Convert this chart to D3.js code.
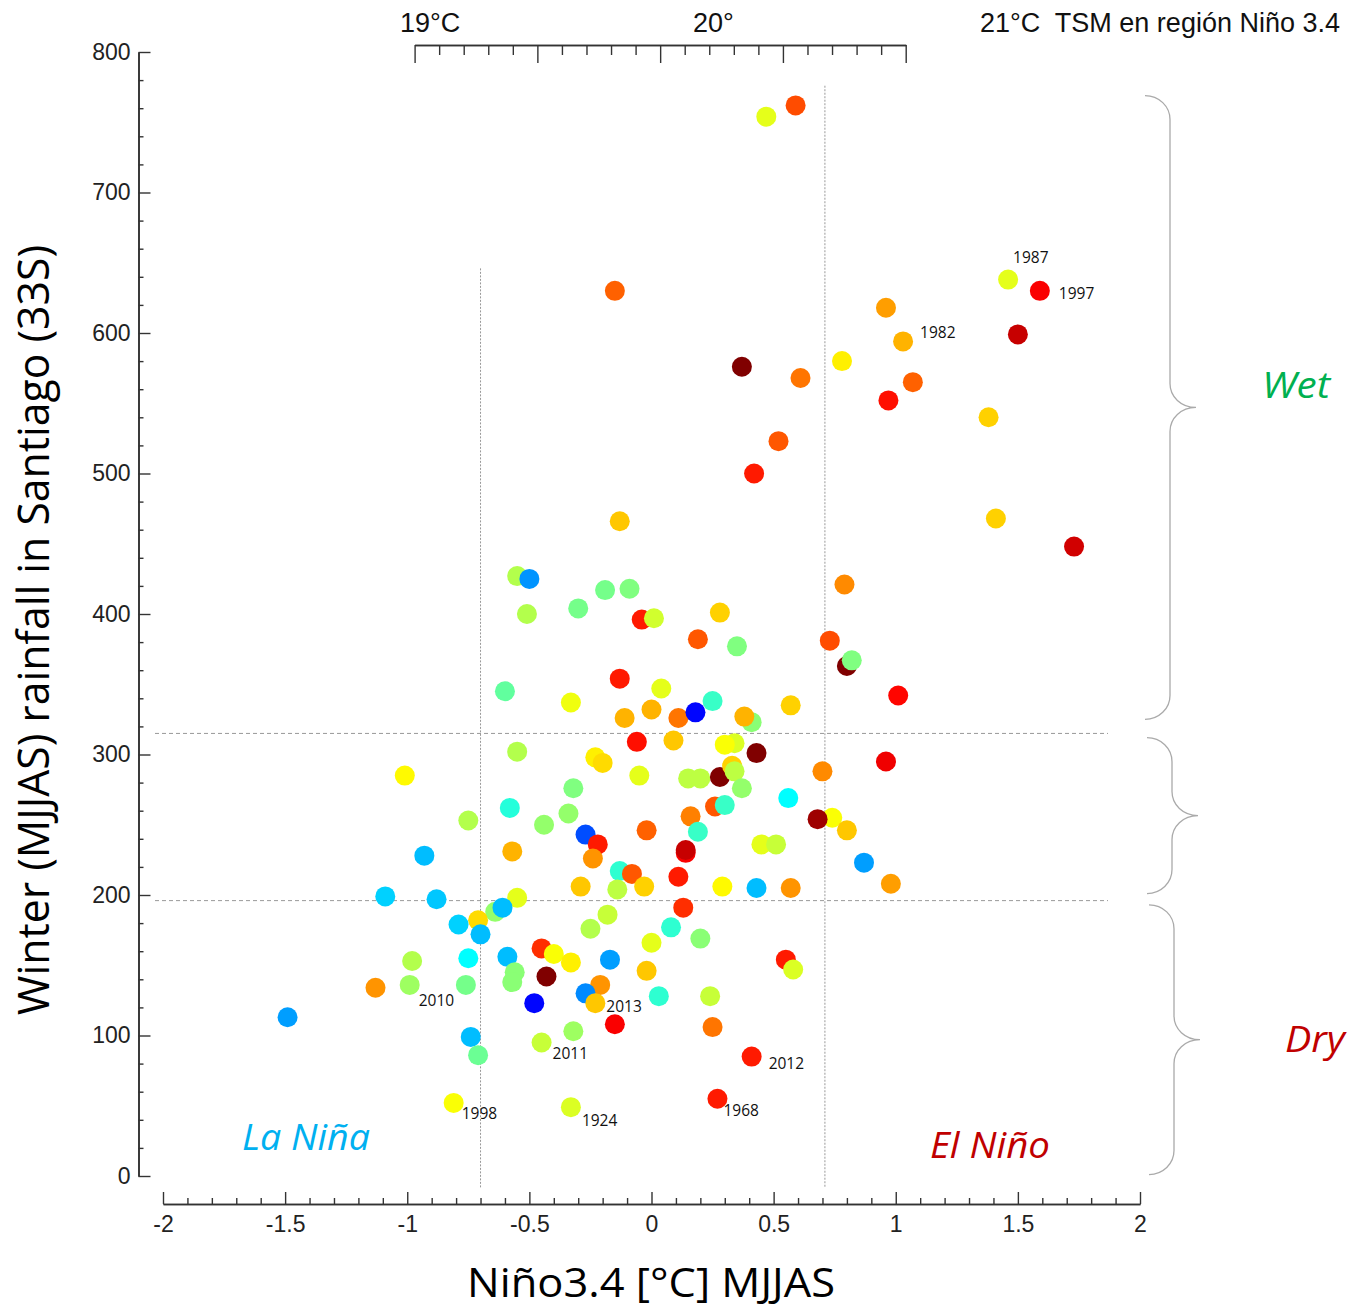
<!DOCTYPE html>
<html>
<head>
<meta charset="utf-8">
<script src="https://cdn.jsdelivr.net/npm/d3@7"></script>
<style>
body{margin:0;background:#fff}
</style>
</head>
<body>
<script>
// Niño3.4 anomaly (MJJAS), winter rainfall (mm) and colour value (0-1 on a jet ramp)
const nino=[0.47,0.59,-0.15,0.37,0.61,0.78,0.96,1.03,1.46,1.59,
  1.50,1.07,0.97,1.38,0.52,0.42,1.41,1.73,-0.13,-0.55,
  -0.50,-0.19,-0.09,-0.51,-0.30,-0.04,0.01,0.28,0.19,0.35,
  0.79,0.73,0.80,0.82,1.01,-0.13,0.04,-0.60,-0.33,0.25,
  -0.11,0.00,0.11,0.18,0.41,0.38,0.57,-0.06,0.09,0.34,
  0.30,0.43,-0.55,-1.01,-0.23,-0.20,-0.05,0.15,0.20,0.28,
  0.33,0.34,0.37,0.56,0.70,0.96,-0.32,-0.58,-0.34,-0.75,
  -0.44,0.26,0.30,0.16,-0.02,0.19,-0.27,-0.22,-0.93,-0.57,
  -0.24,0.14,0.14,0.45,0.51,0.74,0.68,0.80,0.87,0.98,
  -0.13,-0.08,0.11,-0.29,-0.14,-0.03,0.29,0.43,0.57,-1.09,
  -0.88,-0.55,-0.64,-0.61,-0.71,-0.79,-0.70,-0.18,-0.25,0.13,
  0.08,0.20,0.00,-0.45,-0.40,-0.33,-0.17,-0.02,0.55,0.58,
  -0.98,-0.75,-0.59,-0.56,-0.57,-0.43,-1.13,-0.99,-0.76,-0.21,
  -0.27,-0.23,-0.48,0.03,0.24,-1.49,-0.15,0.25,-0.32,-0.74,
  -0.45,-0.71,0.41,-0.81,-0.33,0.27];
const rain=[754,762,630,576,568,580,618,594,638,630,
  599,565,552,540,523,500,468,448,466,427,
  425,417,418,400,404,396,397,401,382,377,
  421,381,363,367,342,354,347,345,337,338,
  326,332,326,330,323,327,335,309,310,308,
  307,301,302,285,298,294,285,283,283,284,
  292,288,276,269,288,295,276,262,258,253,
  250,263,264,256,246,245,243,236,228,231,
  226,230,232,236,236,255,254,246,223,208,
  217,215,213,206,204,206,206,205,205,199,
  197,198,188,191,182,179,172,186,176,191,
  177,169,166,162,158,152,154,146,154,147,
  153,155,156,145,138,142,134,136,136,136,
  130,123,123,128,128,113,108,106,103,99,
  95,86,85,52,49,55];
const tone=[0.60,0.80,0.78,1.00,0.76,0.64,0.72,0.70,0.60,0.88,
  0.93,0.78,0.86,0.67,0.79,0.85,0.67,0.92,0.68,0.55,
  0.27,0.49,0.50,0.55,0.49,0.85,0.58,0.67,0.79,0.50,
  0.74,0.80,1.00,0.50,0.87,0.85,0.60,0.47,0.61,0.43,
  0.70,0.70,0.76,0.13,0.51,0.70,0.67,0.86,0.68,0.59,
  0.62,1.00,0.55,0.63,0.64,0.66,0.60,0.56,0.56,1.00,
  0.67,0.56,0.52,0.375,0.74,0.89,0.50,0.41,0.52,0.55,
  0.52,0.79,0.43,0.75,0.78,0.43,0.20,0.85,0.31,0.70,
  0.73,0.88,0.93,0.60,0.57,0.62,0.97,0.68,0.28,0.72,
  0.42,0.79,0.85,0.68,0.56,0.67,0.63,0.31,0.73,0.33,
  0.32,0.60,0.52,0.31,0.66,0.33,0.31,0.57,0.55,0.83,
  0.42,0.51,0.60,0.83,0.62,0.64,0.28,0.68,0.85,0.59,
  0.55,0.375,0.31,0.51,0.51,1.00,0.73,0.53,0.49,0.73,
  0.26,0.68,0.13,0.42,0.57,0.28,0.88,0.76,0.53,0.31,
  0.57,0.48,0.85,0.62,0.59,0.85];

// labelled years and the point each one belongs to
const labelYears=["1982","1987","1997","2010","2013","2011","2012","1998","1924","1968"];
const labelPoint=[7,8,9,127,131,140,142,143,144,145];

const xTicks=[-2,-1.5,-1,-0.5,0,0.5,1,1.5,2];
const yTicks=[0,100,200,300,400,500,600,700,800];
const sstLabels=["19°C","20°","21°C  TSM en región Niño 3.4"];

// thresholds
const ninoLimits=[-0.7,0.71];
const rainLimits=[196,315];
const classes=[{name:"Wet",lo:325,hi:769},{name:"",lo:201,hi:312},{name:"Dry",lo:1,hi:193}];

const W=1359,H=1310;
const svg=d3.select("body").append("svg").attr("width",W).attr("height",H);

const x=d3.scaleLinear().domain([-2,2]).range([163,1140]);
const y=d3.scaleLinear().domain([0,800]).range([1176,52]);
const topX=d3.scaleLinear().domain([-1,1]).range([414.6,905.7]);

function jet(t){
  const c=v=>Math.round(255*Math.max(0,Math.min(1,v)));
  return `rgb(${c(1.5-Math.abs(4*t-3))},${c(1.5-Math.abs(4*t-2))},${c(1.5-Math.abs(4*t-1))})`;
}

function styleAxis(g){
  g.select(".domain").attr("stroke","#333").attr("stroke-width",1.6);
  g.selectAll(".tick line").attr("stroke","#333").attr("stroke-width",1.4);
  g.selectAll(".tick text").attr("fill","#222")
    .style("font-family","'Liberation Sans',Arial,sans-serif").style("font-size","23px");
}

const minorX=d3.range(-20,21).map(i=>i/10).filter(v=>Math.abs(v*2-Math.round(v*2))>1e-6);
const minorY=d3.range(0,801,20).filter(v=>v%100!==0);

// bottom axis
svg.append("g").attr("transform","translate(0,1204)")
  .call(d3.axisBottom(x).tickValues(minorX).tickSizeInner(-6).tickSizeOuter(0).tickFormat(""))
  .call(styleAxis);
svg.append("g").attr("transform","translate(0,1204)")
  .call(d3.axisBottom(x).tickValues(xTicks).tickSizeInner(-12).tickSizeOuter(0).tickPadding(12)
    .tickFormat(d=>String(+d.toFixed(1))))
  .call(styleAxis);

// left axis
svg.append("g").attr("transform","translate(138.5,0)")
  .call(d3.axisLeft(y).tickValues(minorY).tickSizeInner(-5).tickSizeOuter(0).tickFormat(""))
  .call(styleAxis);
svg.append("g").attr("transform","translate(138.5,0)")
  .call(d3.axisLeft(y).tickValues(yTicks).tickSizeInner(-12).tickSizeOuter(0).tickPadding(8))
  .call(styleAxis);

// top SST axis
const topMinor=d3.range(-10,11).map(i=>i/10).filter(v=>Math.abs(v*2-Math.round(v*2))>1e-6);
svg.append("g").attr("transform","translate(0,45)")
  .call(d3.axisTop(topX).tickValues(topMinor).tickSizeInner(-10).tickSizeOuter(0).tickFormat(""))
  .call(styleAxis);
svg.append("g").attr("transform","translate(0,45)")
  .call(d3.axisTop(topX).tickValues([-1,-0.5,0,0.5,1]).tickSizeInner(-18).tickSizeOuter(0).tickFormat(""))
  .call(styleAxis);

const sstPos=[[400,32],[693,32],[980,32]];
svg.selectAll("text.sst").data(sstLabels).enter().append("text")
  .attr("class","sst")
  .attr("x",(d,i)=>sstPos[i][0]).attr("y",(d,i)=>sstPos[i][1])
  .style("font-family","'Liberation Sans',Arial,sans-serif").style("font-size","27px")
  .style("white-space","pre").attr("fill","#111")
  .text(d=>d);

// threshold lines
svg.selectAll("line.hthr").data(rainLimits).enter().append("line")
  .attr("x1",155).attr("x2",1108)
  .attr("y1",d=>y(d)).attr("y2",d=>y(d))
  .attr("stroke","#999").attr("stroke-width",1).attr("stroke-dasharray","4,3");
const vTop=[646,776];
svg.selectAll("line.vthr").data(ninoLimits).enter().append("line")
  .attr("x1",d=>x(d)).attr("x2",d=>x(d))
  .attr("y1",(d,i)=>y(vTop[i])).attr("y2",y(-8.5))
  .attr("stroke","#999").attr("stroke-width",1).attr("stroke-dasharray","2,1.5");

// braces
function brace(x0,yTop,yBot){
  const ym=(yTop+yBot)/2,xv=x0+25,xt=x0+51,r=24;
  return `M${x0},${yTop} C${x0+14},${yTop} ${xv},${yTop+r*0.45} ${xv},${yTop+r}`+
    ` L${xv},${ym-r} C${xv},${ym-r*0.45} ${xv+11},${ym} ${xt},${ym}`+
    ` C${xv+11},${ym} ${xv},${ym+r*0.45} ${xv},${ym+r}`+
    ` L${xv},${yBot-r} C${xv},${yBot-r*0.45} ${x0+14},${yBot} ${x0},${yBot}`;
}
const braceX=[1145,1147,1149];
svg.selectAll("path.brace").data(classes).enter().append("path")
  .attr("d",(d,i)=>brace(braceX[i],y(d.hi),y(d.lo)))
  .attr("fill","none").attr("stroke","#aaa").attr("stroke-width",1.3);

// points
const pts=nino.map((v,i)=>({x:v,y:rain[i],c:tone[i]}));
svg.append("g").selectAll("circle").data(pts).enter().append("circle")
  .attr("cx",d=>x(d.x)).attr("cy",d=>y(d.y)).attr("r",10)
  .attr("fill",d=>jet(d.c));

// year labels
const labelOff=[[17,-3],[5,-17],[19,8],[9,21],[11,9],[11,16],[17,12],[8,16],[11,19],[6,17]];
svg.selectAll("text.year").data(labelYears).enter().append("text")
  .attr("class","year")
  .attr("x",(d,i)=>x(nino[labelPoint[i]])+labelOff[i][0])
  .attr("y",(d,i)=>y(rain[labelPoint[i]])+labelOff[i][1])
  .style("font-family","'Open Sans',sans-serif").style("font-size","15.5px")
  .attr("fill","#111").text(d=>d);

// region words
const words=[
  {t:"Wet",x:1262,y:398,c:"#00b050",w:68},
  {t:"Dry",x:1285,y:1052,c:"#c00000",w:60},
  {t:"La Niña",x:242,y:1150,c:"#00b0f0",w:128},
  {t:"El Niño",x:930,y:1158,c:"#c00000",w:120}
];
svg.selectAll("text.word").data(words).enter().append("text")
  .attr("x",d=>d.x).attr("y",d=>d.y).attr("fill",d=>d.c)
  .attr("textLength",d=>d.w).attr("lengthAdjust","spacingAndGlyphs")
  .style("font-family","'Open Sans',sans-serif").style("font-style","italic").style("font-size","37px")
  .text(d=>d.t);

// axis titles
svg.append("text").attr("transform","translate(49,630) rotate(-90)")
  .attr("text-anchor","middle").attr("textLength",770).attr("lengthAdjust","spacingAndGlyphs")
  .style("font-family","'Open Sans',sans-serif").style("font-size","43px").attr("fill","#000")
  .text("Winter (MJJAS) rainfall in Santiago (33S)");
svg.append("text").attr("x",651).attr("y",1297)
  .attr("text-anchor","middle").attr("textLength",368).attr("lengthAdjust","spacingAndGlyphs")
  .style("font-family","'Open Sans',sans-serif").style("font-size","40px").attr("fill","#000")
  .text("Niño3.4 [°C] MJJAS");
</script>
</body>
</html>
